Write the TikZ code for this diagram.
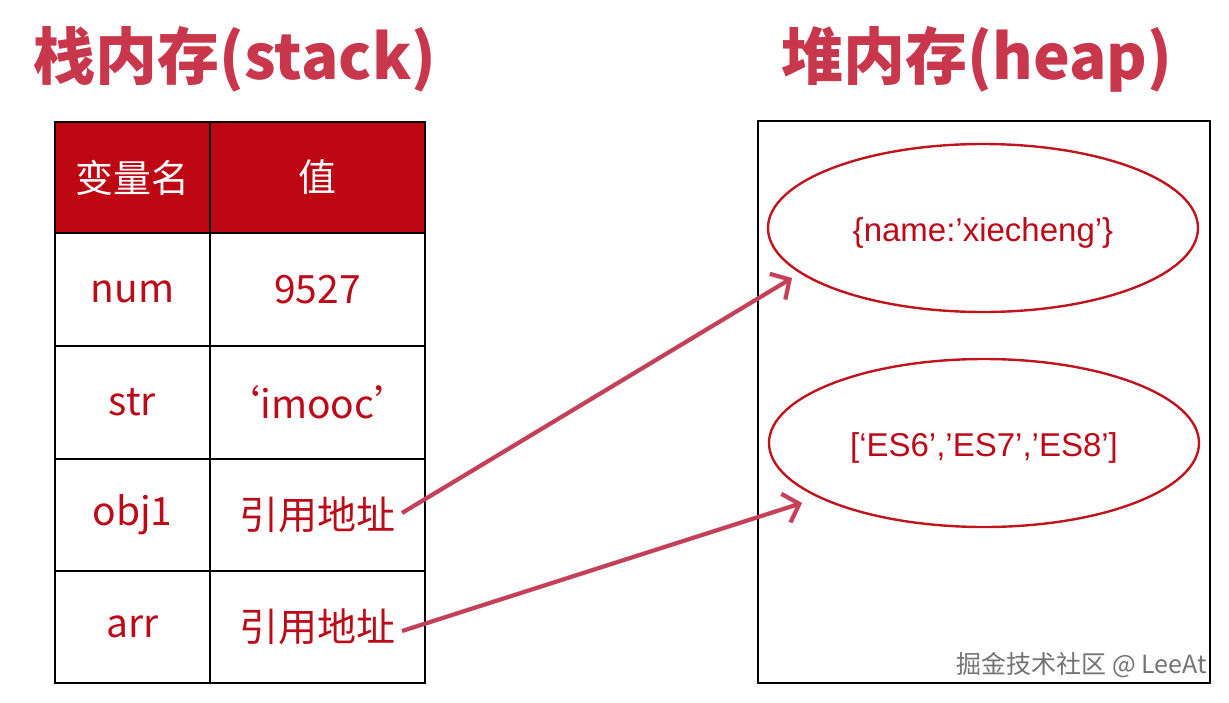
\documentclass[tikz,border=0pt]{standalone}
\usepackage{fontspec}
\setmainfont{Noto Sans CJK SC}
\newfontfamily\arialf{Liberation Sans}
\usetikzlibrary{arrows.meta,shapes.geometric}
\definecolor{titlered}{HTML}{C8374C}
\definecolor{hdrred}{HTML}{BE0713}
\definecolor{txtred}{HTML}{BC0A18}
\definecolor{arrred}{HTML}{C63E57}
\definecolor{ellred}{HTML}{C0141E}
\tikzset{
  cell/.style={draw=black, line width=2pt, inner sep=0pt, minimum width=#1},
  cell/.default=155pt,
  hdr/.style={fill=hdrred, text=white, font=\fontsize{38}{42}\selectfont},
  body/.style={text=txtred, font=\fontsize{39}{44}\selectfont},
  title/.style={text=titlered, font=\bfseries\fontsize{62}{70}\selectfont, inner sep=0pt},
  heapnode/.style={draw=ellred, line width=2.4pt, ellipse, minimum width=430pt, minimum height=168pt, inner sep=0pt, text=txtred, font=\arialf\fontsize{33}{38}\selectfont},
  ref/.style={draw=arrred, line width=4pt, -{Straight Barb[length=14pt,width=30pt,line width=4pt]}},
  refshadow/.style={draw=black!60, opacity=0.22, line width=5pt, -{Straight Barb[length=14pt,width=30pt,line width=5pt]}},
}
\begin{document}
\begin{tikzpicture}[x=1pt,y=-1pt]
\useasboundingbox (0,0) rectangle (1229,702);
% titles
\node[title] (t1) at (235,59) {栈内存(stack)};
\node[title] (t2) at (977,59) {堆内存(heap)};
% table
\node[cell, hdr, minimum height=111pt] (h1) at (132.5,177.5) {变量名};
\node[cell=215pt, hdr, minimum height=111pt] (h2) at (317.5,177.5) {值};
\node[cell, body, minimum height=113pt] (n1) at (132.5,289.5) {\raisebox{-2pt}[\height][\depth]{num}};
\node[cell=215pt, body, minimum height=113pt] (v1) at (317.5,289.5) {9527};
\node[cell, body, minimum height=113pt] (n2) at (132.5,402.5) {str};
\node[cell=215pt, body, minimum height=113pt] (v2) at (317.5,402.5) {‘imooc’};
\node[cell, body, minimum height=112pt] (n3) at (132.5,515) {obj1};
\node[cell=215pt, body, minimum height=112pt] (v3) at (317.5,515) {引用地址};
\node[cell, body, minimum height=112pt] (n4) at (132.5,627) {arr};
\node[cell=215pt, body, minimum height=112pt] (v4) at (317.5,627) {引用地址};
% heap
\node[draw=black, line width=2.2pt, minimum width=452pt, minimum height=562pt, inner sep=0pt] (heap) at (984,402) {};
\node[heapnode] (e1) at (983,228) {\raisebox{-5pt}[\height][\depth]{\{name:’xiecheng’\}}};
\node[heapnode] (e2) at (984,443) {\raisebox{-5pt}[\height][\depth]{[‘ES6’,’ES7’,’ES8’]}};
% arrows
\coordinate (s1) at (402,513);
\coordinate (d1) at (792,278);
\coordinate (s2) at (402,631);
\coordinate (d2) at (802,503);
\begin{scope}[shift={(2,3)}]
\draw[refshadow] (s1) -- (d1);
\draw[refshadow] (s2) -- (d2);
\end{scope}
\draw[ref] (s1) -- (d1);
\draw[ref] (s2) -- (d2);
% watermark
\node[text=white, font=\fontsize{25}{28}\selectfont, anchor=east, inner sep=0pt] at (1208,667) {掘金技术社区 @ LeeAt};
\node[text=black!55, font=\fontsize{25}{28}\selectfont, anchor=east, inner sep=0pt] (wm) at (1207,665) {掘金技术社区 @ LeeAt};
\end{tikzpicture}
\end{document}
